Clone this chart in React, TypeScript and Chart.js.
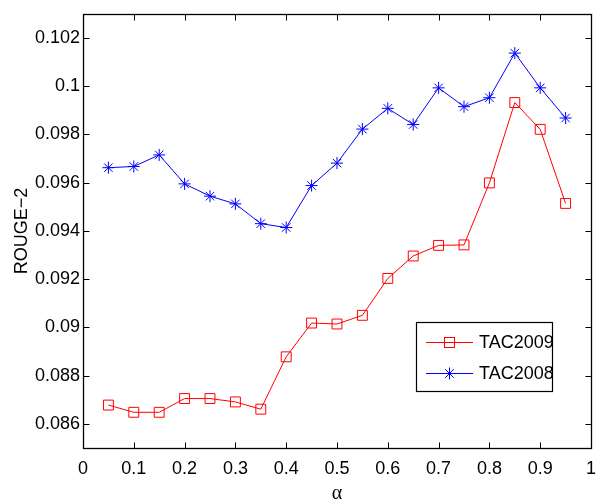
import React, { useEffect, useRef } from "react";
import { Chart, registerables } from "chart.js";

Chart.register(...registerables);

const alphaValues = [0.05, 0.1, 0.15, 0.2, 0.25, 0.3, 0.35, 0.4, 0.45, 0.5, 0.55, 0.6, 0.65, 0.7, 0.75, 0.8, 0.85, 0.9, 0.95];
const tac2009 = [0.08678, 0.08648, 0.08648, 0.08705, 0.08705, 0.08691, 0.08661, 0.08878, 0.09018, 0.09014, 0.0905, 0.09203, 0.09296, 0.0934, 0.09342, 0.09599, 0.09932, 0.09821, 0.09514];
const tac2008 = [0.09662, 0.09667, 0.09715, 0.09595, 0.09544, 0.09512, 0.0943, 0.09414, 0.09588, 0.09681, 0.09822, 0.09908, 0.09841, 0.09993, 0.09915, 0.09952, 0.10137, 0.09993, 0.09868];
const xTicks = [0, 0.1, 0.2, 0.3, 0.4, 0.5, 0.6, 0.7, 0.8, 0.9, 1];
const yTicks = [0.086, 0.088, 0.09, 0.092, 0.094, 0.096, 0.098, 0.1, 0.102];
const seriesLabels = ["TAC2009", "TAC2008"];

const FONT = "'Liberation Sans', Arial, sans-serif";

const fmt = (v: number) => String(Number(v.toFixed(4)));

const boxPlugin = {
  id: "matlabBox",
  afterDatasetsDraw(chart: any) {
    const { ctx, chartArea } = chart;
    const xs = chart.scales.x;
    const ys = chart.scales.y;
    const L = Math.round(chartArea.left) + 0.5;
    const R = Math.round(chartArea.right) + 0.5;
    const T = Math.round(chartArea.top) + 0.5;
    const B = Math.round(chartArea.bottom) + 0.5;
    ctx.save();
    ctx.strokeStyle = "#000";
    ctx.lineWidth = 1;
    ctx.beginPath();
    const tl = 6;
    xTicks.forEach((v) => {
      const px = Math.round(xs.getPixelForValue(v)) + 0.5;
      ctx.moveTo(px, B);
      ctx.lineTo(px, B - tl);
      ctx.moveTo(px, T);
      ctx.lineTo(px, T + tl);
    });
    yTicks.forEach((v) => {
      const py = Math.round(ys.getPixelForValue(v)) + 0.5;
      ctx.moveTo(L, py);
      ctx.lineTo(L + tl, py);
      ctx.moveTo(R, py);
      ctx.lineTo(R - tl, py);
    });
    ctx.stroke();
    ctx.lineWidth = 1.3;
    ctx.strokeRect(L, T, R - L, B - T);
    ctx.restore();
  },
  afterDraw(chart: any) {
    const { ctx } = chart;
    const bx = 416.5, by = 322.5, bw = 136, bh = 69;
    ctx.save();
    ctx.fillStyle = "#fff";
    ctx.fillRect(bx, by, bw, bh);
    ctx.strokeStyle = "#000";
    ctx.lineWidth = 1.2;
    ctx.strokeRect(bx, by, bw, bh);
    const rows = [342, 373];
    chart.data.datasets.forEach((ds: any, i: number) => {
      const y = rows[i] + 0.5;
      ctx.strokeStyle = ds.borderColor;
      ctx.lineWidth = 1;
      ctx.beginPath();
      ctx.moveTo(426, y);
      ctx.lineTo(473, y);
      ctx.stroke();
      const cx = 449.5;
      if (ds.pointStyle === "rect") {
        ctx.strokeRect(cx - 5, y - 5, 10, 10);
      } else {
        const r = 6;
        ctx.beginPath();
        ctx.moveTo(cx, y - r);
        ctx.lineTo(cx, y + r);
        ctx.moveTo(cx - r, y);
        ctx.lineTo(cx + r, y);
        const d = r * Math.SQRT1_2;
        ctx.moveTo(cx - d, y - d);
        ctx.lineTo(cx + d, y + d);
        ctx.moveTo(cx - d, y + d);
        ctx.lineTo(cx + d, y - d);
        ctx.stroke();
      }
      ctx.fillStyle = "#000";
      ctx.font = `18px ${FONT}`;
      ctx.textAlign = "left";
      ctx.textBaseline = "middle";
      ctx.fillText(ds.label, 479, y + 1);
    });
    ctx.restore();
  },
};

export default function App() {
  const ref = useRef<HTMLCanvasElement | null>(null);
  useEffect(() => {
    if (!ref.current) return;
    const chart = new Chart(ref.current, {
      type: "line",
      data: {
        datasets: [
          {
            label: seriesLabels[0],
            data: alphaValues.map((a, i) => ({ x: a, y: tac2009[i] })),
            borderColor: "#ff0000",
            backgroundColor: "rgba(0,0,0,0)",
            borderWidth: 1,
            pointStyle: "rect",
            pointRadius: 7,
            pointBorderWidth: 1,
            pointBorderColor: "#ff0000",
            pointBackgroundColor: "rgba(0,0,0,0)",
            tension: 0,
          },
          {
            label: seriesLabels[1],
            data: alphaValues.map((a, i) => ({ x: a, y: tac2008[i] })),
            borderColor: "#0000ff",
            backgroundColor: "rgba(0,0,0,0)",
            borderWidth: 1,
            pointStyle: "star",
            pointRadius: 6,
            pointBorderWidth: 1,
            pointBorderColor: "#0000ff",
            pointBackgroundColor: "rgba(0,0,0,0)",
            tension: 0,
          },
        ],
      },
      options: {
        animation: false,
        responsive: false,
        devicePixelRatio: 1,
        layout: { padding: { left: 0, top: 11, right: 22, bottom: 0 } },
        plugins: { legend: { display: false }, tooltip: { enabled: false } },
        scales: {
          x: {
            type: "linear",
            min: 0,
            max: 1,
            grid: { display: false, drawTicks: false },
            border: { display: false },
            afterBuildTicks: (s: any) => {
              s.ticks = xTicks.map((v) => ({ value: v }));
            },
            afterFit: (s: any) => {
              s.height = 52;
            },
            ticks: {
              autoSkip: false,
              maxRotation: 0,
              padding: 10,
              color: "#000",
              font: { family: FONT, size: 18 },
              callback: (v: any) => fmt(Number(v)),
            },
            title: {
              display: true,
              text: "α",
              color: "#000",
              font: { family: "'Liberation Serif', serif", size: 20, lineHeight: 1 },
              padding: { top: 0, bottom: -4 },
            },
          },
          y: {
            type: "linear",
            min: 0.085,
            max: 0.103,
            grid: { display: false, drawTicks: false },
            border: { display: false },
            afterBuildTicks: (s: any) => {
              s.ticks = yTicks.map((v) => ({ value: v }));
            },
            afterFit: (s: any) => {
              s.width = 83;
            },
            ticks: {
              autoSkip: false,
              padding: 3,
              color: "#000",
              font: { family: FONT, size: 18 },
              callback: (v: any) => fmt(Number(v)),
            },
            title: {
              display: true,
              text: "ROUGE−2",
              color: "#000",
              font: { family: "'Liberation Sans', Arial, sans-serif", size: 18, lineHeight: 1 },
              padding: { top: 13, bottom: 0 },
            },
          },
        },
      },
      plugins: [boxPlugin],
    });
    return () => chart.destroy();
  }, []);
  return (
    <div style={{ position: "absolute", left: 0, top: 0, width: 613, height: 500, background: "#fff" }}>
      <canvas ref={ref} width={613} height={500} style={{ width: 613, height: 500, display: "block" }} />
    </div>
  );
}
